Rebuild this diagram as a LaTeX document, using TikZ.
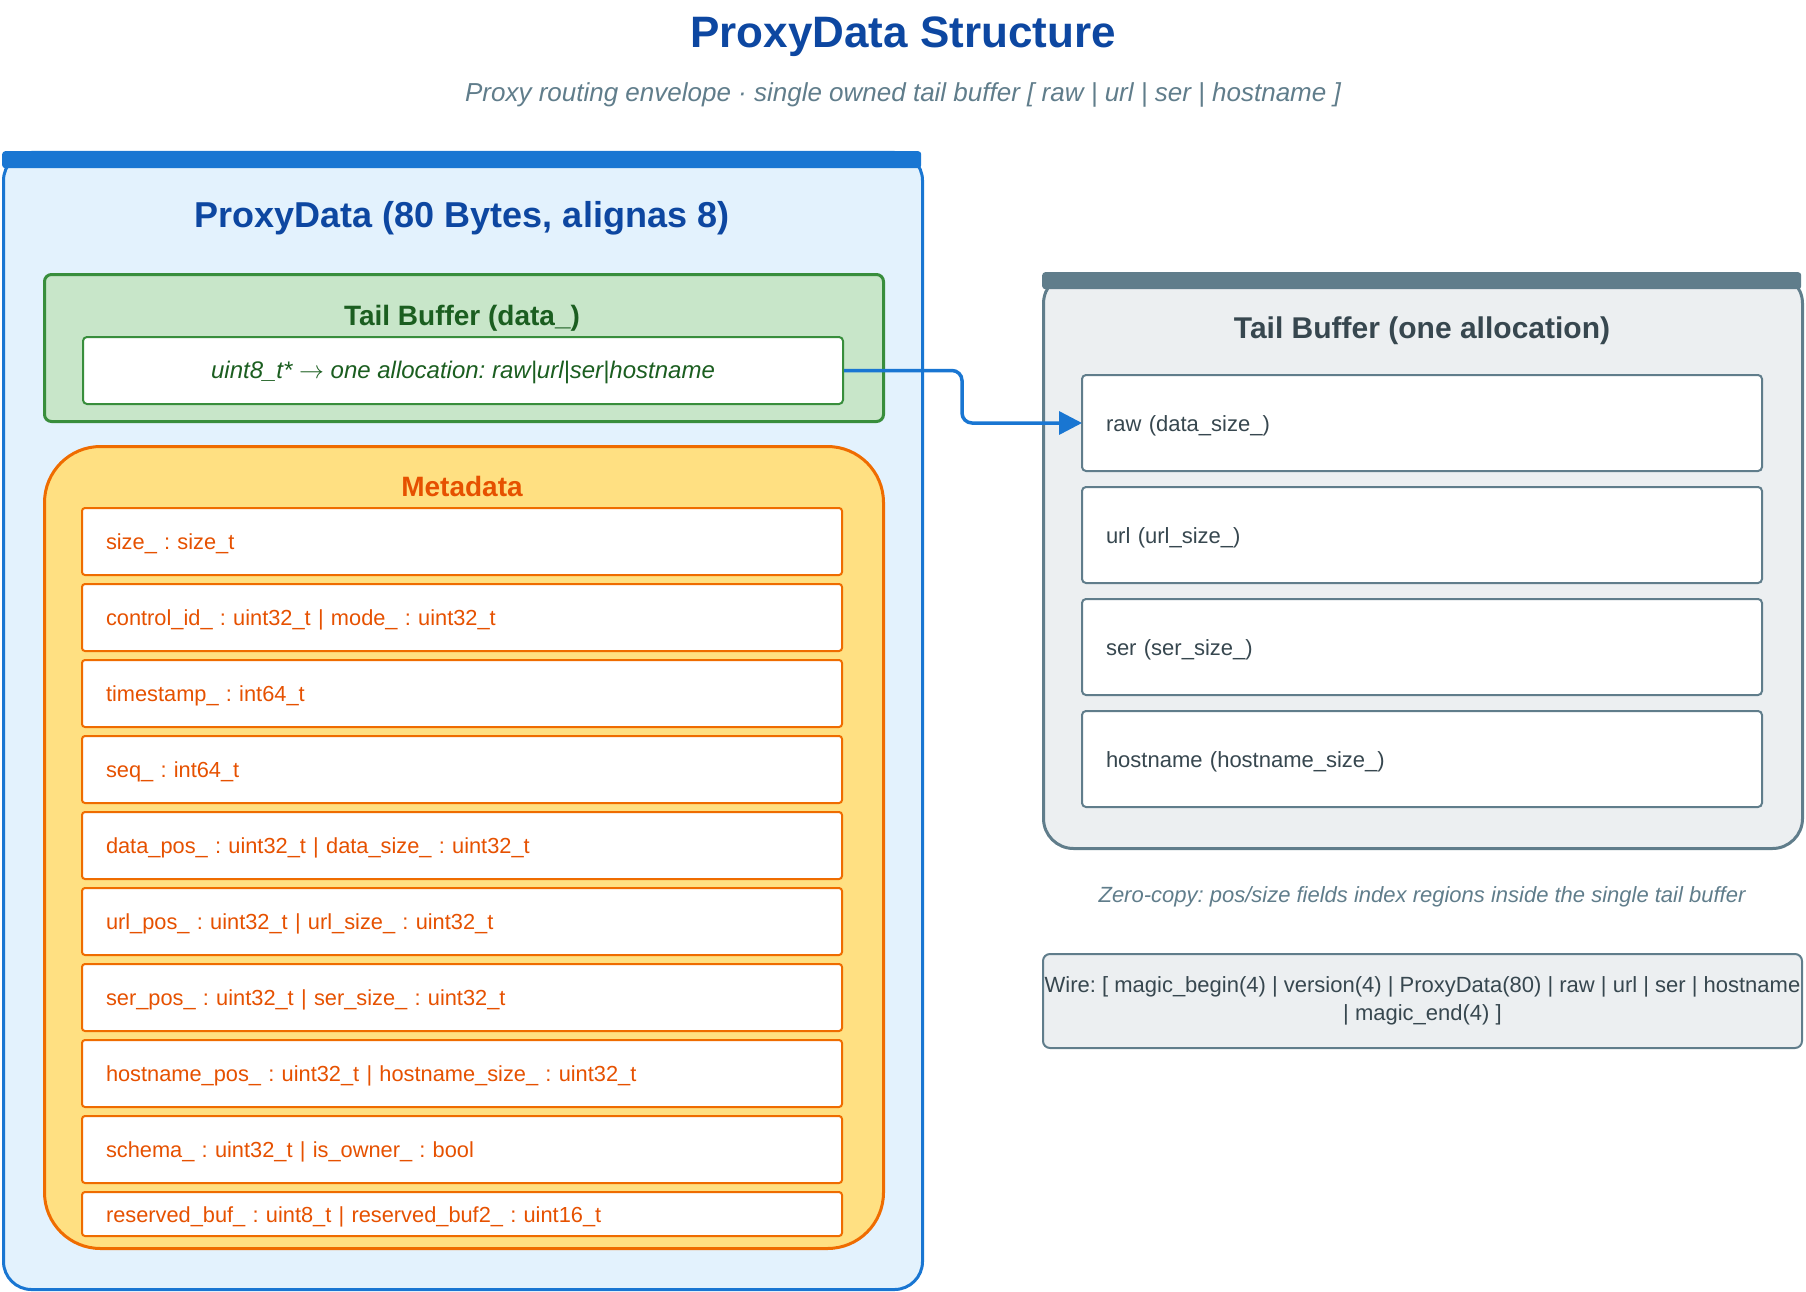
\documentclass[tikz,border=0pt]{standalone}
\usepackage{fontspec}
\setmainfont{Liberation Sans}
\usepackage{tikz}
\usetikzlibrary{arrows.meta, positioning}
\definecolor{titleblue}{HTML}{0D47A1}
\definecolor{slate}{HTML}{607D8B}
\definecolor{slatefill}{HTML}{ECEFF1}
\definecolor{slatetext}{HTML}{37474F}
\definecolor{structline}{HTML}{1976D2}
\definecolor{structfill}{HTML}{E3F2FD}
\definecolor{tailline}{HTML}{388E3C}
\definecolor{tailfill}{HTML}{C8E6C9}
\definecolor{tailtext}{HTML}{1B5E20}
\definecolor{metaline}{HTML}{EF6C00}
\definecolor{metafill}{HTML}{FFE082}
\definecolor{metatext}{HTML}{E65100}
\tikzset{
    maintitle/.style={font=\fontsize{44}{52}\selectfont\bfseries, text=titleblue},
    subtitle/.style={font=\fontsize{26}{31}\selectfont\itshape, text=slate},
    structbox/.style={rectangle, rounded corners=28pt, anchor=north west, draw=structline, fill=structfill, line width=3pt, minimum width=919pt, minimum height=1137pt},
    structbar/.style={rectangle, rounded corners=3pt, anchor=north west, inner sep=0pt, minimum height=17pt},
    structtitle/.style={font=\fontsize{36}{43}\selectfont\bfseries, text=titleblue},
    secttitle/.style={font=\fontsize{28}{34}\selectfont\bfseries},
    tailbox/.style={rectangle, rounded corners=7pt, anchor=north west, draw=tailline, fill=tailfill, line width=3pt, minimum width=839pt, minimum height=147pt},
    ptrbox/.style={rectangle, rounded corners=4pt, anchor=north west, draw=tailline, fill=white, line width=2pt, minimum width=760pt, minimum height=67pt, text height=20pt, text depth=5pt, font=\fontsize{24}{29}\selectfont\itshape, text=tailtext},
    metabox/.style={rectangle, rounded corners=56pt, anchor=north west, draw=metaline, fill=metafill, line width=3pt, minimum width=839pt, minimum height=802pt},
    field/.style={rectangle, rounded corners=3pt, draw=metaline, fill=white, line width=2pt, outer sep=0pt, minimum height=67pt, text width=712pt, text height=21pt, text depth=5pt, inner xsep=24pt, inner ysep=0pt, align=left, font=\fontsize{21.8}{27}\selectfont, text=metatext},
    region/.style={rectangle, rounded corners=4pt, draw=slate, fill=white, line width=2pt, outer sep=0pt, minimum height=96pt, text width=632pt, text height=21pt, text depth=5pt, inner xsep=24pt, inner ysep=0pt, align=left, font=\fontsize{22}{27}\selectfont, text=slatetext},
    bufbox/.style={rectangle, rounded corners=30pt, anchor=north west, draw=slate, fill=slatefill, line width=3pt, minimum width=759pt, minimum height=575pt},
    wirebox/.style={rectangle, rounded corners=7pt, anchor=north west, draw=slate, fill=slatefill, line width=2pt, minimum width=759pt, minimum height=94pt, align=center, inner sep=0pt, font=\fontsize{22}{28}\selectfont, text=slatetext},
    note/.style={font=\fontsize{22}{27}\selectfont\itshape, text=slate},
    flow/.style={line width=3.5pt, draw=structline, rounded corners=10pt, -{Triangle[length=23pt, width=23pt]}}
}
\begin{document}
\frenchspacing
\begin{tikzpicture}[x=1pt, y=-1pt, node distance=9pt]
    \useasboundingbox (0,0) rectangle (1806,1292);

    \node (title) [maintitle] at (903,37) {ProxyData Structure};
    \node (sub) [subtitle] at (903,95) {Proxy routing envelope · single owned tail buffer [ raw | url | ser | hostname ]};

    \node (proxy) [structbox] at (2,151) {};
    \node (proxybar) [structbar, fill=structline, minimum width=919pt] at (2,151) {};
    \node (proxytitle) [structtitle] at (462,218) {ProxyData (80 Bytes, alignas 8)};

    \node (tail) [tailbox] at (43,273) {};
    \node (tailtitle) [secttitle, text=tailtext] at (462,318) {Tail Buffer (data\_)};
    \node (dataptr) [ptrbox] at (82,336) {uint8\_t* $\rightarrow$ one allocation: raw|url|ser|hostname};

    \node (meta) [metabox] at (43,445) {};
    \node (metatitle) [secttitle, text=metatext] at (462,486) {Metadata};
    \node (f1) [field, anchor=north west] at (82,508) {size\_ : size\_t};
    \node (f2) [field, below=of f1] {control\_id\_ : uint32\_t | mode\_ : uint32\_t};
    \node (f3) [field, below=of f2] {timestamp\_ : int64\_t};
    \node (f4) [field, below=of f3] {seq\_ : int64\_t};
    \node (f5) [field, below=of f4] {data\_pos\_ : uint32\_t | data\_size\_ : uint32\_t};
    \node (f6) [field, below=of f5] {url\_pos\_ : uint32\_t | url\_size\_ : uint32\_t};
    \node (f7) [field, below=of f6] {ser\_pos\_ : uint32\_t | ser\_size\_ : uint32\_t};
    \node (f8) [field, below=of f7] {hostname\_pos\_ : uint32\_t | hostname\_size\_ : uint32\_t};
    \node (f9) [field, below=of f8] {schema\_ : uint32\_t | is\_owner\_ : bool};
    \node (f10) [field, below=of f9, minimum height=44pt] {reserved\_buf\_ : uint8\_t | reserved\_buf2\_ : uint16\_t};

    \node (buf) [bufbox] at (1042,272) {};
    \node (bufbar) [structbar, fill=slate, minimum width=759pt] at (1042,272) {};
    \node (buftitle) [secttitle, text=slatetext, font=\fontsize{30}{36}\selectfont\bfseries] at (1422,331) {Tail Buffer (one allocation)};
    \node (raw) [region, anchor=north west] at (1082,375) {raw (data\_size\_)};
    \node (url) [region, below=16pt of raw] {url (url\_size\_)};
    \node (ser) [region, below=16pt of url] {ser (ser\_size\_)};
    \node (host) [region, below=16pt of ser] {hostname (hostname\_size\_)};

    \node (zerocopy) [note] at (1422,897) {Zero-copy: pos/size fields index regions inside the single tail buffer};
    \node (wire) [wirebox] at (1042,953) {Wire: [ magic\_begin(4) | version(4) | ProxyData(80) | raw | url | ser | hostname\\| magic\_end(4) ]};

    \coordinate (bend) at (962,400);
    \draw [flow] (dataptr.east) -| (bend) |- (raw.west);
\end{tikzpicture}
\end{document}
